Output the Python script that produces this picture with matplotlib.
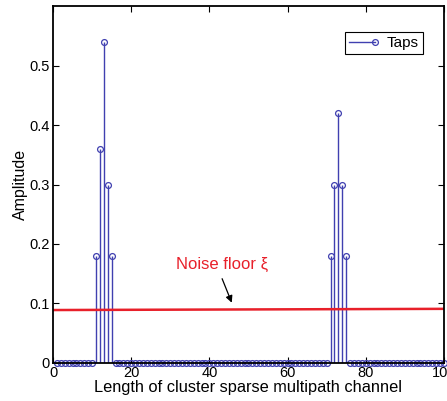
import numpy as np
import matplotlib
matplotlib.use("Agg")
import matplotlib.pyplot as plt
from matplotlib.lines import Line2D
from matplotlib.legend_handler import HandlerBase

plt.rcParams['font.family'] = ['Liberation Sans', 'DejaVu Sans']

# tap index and amplitude
tap_index = np.arange(1, 101)
cluster1_pos = [11, 12, 13, 14, 15]
cluster1_amp = [0.18, 0.36, 0.54, 0.30, 0.18]
cluster2_pos = [71, 72, 73, 74, 75]
cluster2_amp = [0.18, 0.30, 0.42, 0.30, 0.18]

# noise floor endpoints
noise_x = [0, 100]
noise_y = [0.089, 0.091]

amp = np.zeros(len(tap_index))
for p, a in zip(cluster1_pos + cluster2_pos, cluster1_amp + cluster2_amp):
    amp[p - 1] = a

blue = '#4040b0'
red = '#e8202a'


class TapHandler(HandlerBase):
    # line with the circle sitting at its right end, like matlab's stem legend
    def create_artists(self, legend, orig_handle, xdescent, ydescent,
                       width, height, fontsize, trans):
        y = height / 2 - ydescent
        x1 = width - xdescent
        line = Line2D([-xdescent, x1], [y, y], color=blue, linewidth=1.0)
        mk = Line2D([x1], [y], linestyle='none', marker='o', markersize=4.2,
                    markerfacecolor='none', markeredgecolor=blue,
                    markeredgewidth=0.9)
        line.set_transform(trans)
        mk.set_transform(trans)
        return [line, mk]


fig = plt.figure(figsize=(4.47, 4.01), dpi=100)
ax = fig.add_axes([0.1186, 0.0948, 0.8744, 0.8902])

ml, sl, bl = ax.stem(tap_index, amp, basefmt=' ')
plt.setp(sl, color=blue, linewidth=1.0)
plt.setp(ml, color=blue, marker='o', markersize=4.2, markerfacecolor='none',
         markeredgewidth=0.9)
ml.set_clip_on(False)

ax.plot(noise_x, noise_y, color=red, linewidth=1.8)

ax.text(31.5, 0.165, 'Noise floor \u03be', color=red, fontsize=12,
        ha='left', va='center')
ax.annotate('', xy=(46, 0.097), xytext=(43, 0.146),
            arrowprops=dict(arrowstyle='-|>', color='black', lw=0.9,
                            mutation_scale=10))

ax.set_xlim(0, 100)
ax.set_ylim(0, 0.6)
ax.set_xticks(np.arange(0, 101, 20))
ax.set_yticks(np.arange(0, 0.51, 0.1))
ax.set_yticklabels(['0', '0.1', '0.2', '0.3', '0.4', '0.5'])
ax.tick_params(direction='in', top=True, right=True, labelsize=10.5,
               length=4, width=0.8, pad=2.5)
for s in ax.spines.values():
    s.set_linewidth(1.3)

ax.set_xlabel('Length of cluster sparse multipath channel', fontsize=11.8,
              labelpad=0)
ax.set_ylabel('Amplitude', fontsize=11.5, labelpad=1)

handle = Line2D([], [], color=blue)
leg = ax.legend([handle], ['Taps'], loc='upper right',
                bbox_to_anchor=(0.946, 0.927), borderaxespad=0,
                handler_map={Line2D: TapHandler()}, fontsize=11,
                fancybox=False, edgecolor='black', framealpha=1,
                handlelength=1.75, borderpad=0.25, handletextpad=0.75)
leg.get_frame().set_linewidth(0.8)

fig.savefig('out.png', dpi=100)
